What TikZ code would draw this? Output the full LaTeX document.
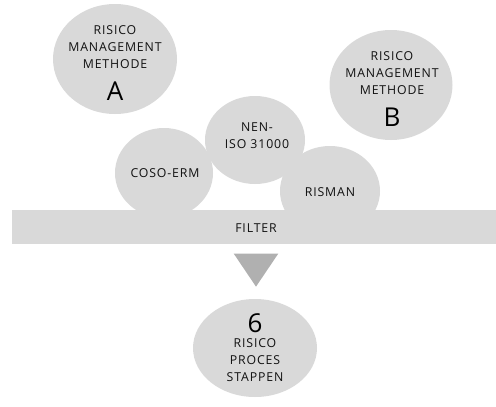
\documentclass[tikz,border=0pt]{standalone}
\usepackage{fontspec}
\setmainfont{Open Sans}[LetterSpace=7]
\usetikzlibrary{shapes.geometric}
\definecolor{blobgray}{HTML}{D9D9D9}
\definecolor{arrowgray}{HTML}{B0B0B0}
\definecolor{txtgray}{HTML}{111111}
\tikzset{
  blob/.style={ellipse, fill=blobgray, inner sep=0pt},
  txt/.style={text=txtgray, align=center, inner sep=0pt, font=\fontsize{12.3}{16.8}\selectfont},
  bigtxt/.style={text=black, inner sep=0pt, font=\fontsize{26}{26}\selectfont\addfontfeature{LetterSpace=0}},
}
\begin{document}
\begin{tikzpicture}[x=1pt,y=-1pt]
\useasboundingbox (0,0) rectangle (496,407);
% methods A and B
\node[blob, minimum width=124, minimum height=110] (A) at (115,59) {};
\node[blob, minimum width=123, minimum height=110] (B) at (391,85) {};
% standards
\node[blob, minimum width=100, minimum height=88] (nen) at (255,140) {};
\node[blob, minimum width=98, minimum height=90] (coso) at (164,173) {};
\node[blob, minimum width=100, minimum height=90] (risman) at (330,191) {};
% filter bar
\node[fill=blobgray, minimum width=484, minimum height=34, inner sep=0pt, anchor=north west] (filter) at (12,210) {};
% arrow triangle
\node[isosceles triangle, shape border rotate=-90, isosceles triangle apex angle=68, fill=arrowgray, minimum height=33, inner sep=0pt, anchor=apex] (arrow) at (256,287) {};
% result
\node[blob, minimum width=124, minimum height=98] (six) at (255,348) {};
% texts
\node[txt, anchor=base] at (115,68) {RISICO\\MANAGEMENT\\METHODE};
\node[bigtxt, anchor=base] at (115,100) {A};
\node[txt, anchor=base] at (392,94) {RISICO\\MANAGEMENT\\METHODE};
\node[bigtxt, anchor=base] at (392,126) {B};
\node[txt, anchor=base] at (257,148) {NEN-\\ISO 31000};
\node[txt, anchor=base] at (165,177) {COSO-ERM};
\node[txt, anchor=base] at (330,196) {RISMAN};
\node[txt, anchor=base] at (256,232) {FILTER};
\node[bigtxt, anchor=base] at (255,332) {6};
\node[txt, anchor=base] at (255,381) {RISICO\\PROCES\\STAPPEN};
\end{tikzpicture}
\end{document}
